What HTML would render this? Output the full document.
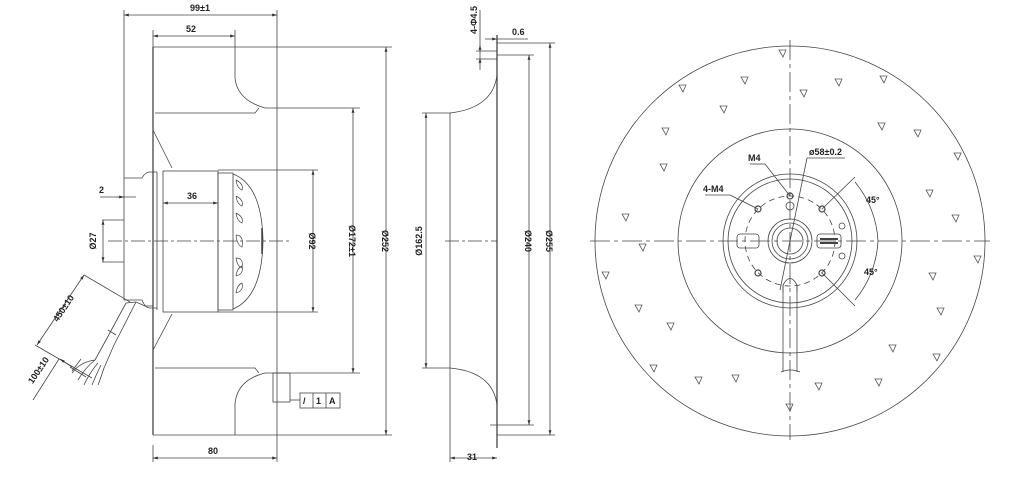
<!DOCTYPE html>
<html><head><meta charset="utf-8"><style>
html,body{margin:0;padding:0;background:#fff;}
svg{display:block}
text{font-family:"Liberation Sans",sans-serif;font-size:9px;fill:#222;font-weight:bold}
</style></head><body>
<svg width="1024" height="480" viewBox="0 0 1024 480" xmlns="http://www.w3.org/2000/svg">
<defs>
<marker id="a" viewBox="0 0 10 10" refX="10" refY="5" markerWidth="6" markerHeight="6" orient="auto-start-reverse"><path d="M0,2 L10,5 L0,8 z" fill="#333"/></marker>
</defs>
<g stroke="#444" stroke-width="0.8" fill="none">
<!-- LEFT VIEW -->
<line x1="124" y1="10" x2="124" y2="300"/>
<line x1="277" y1="10" x2="277" y2="462"/>
<line x1="124" y1="15" x2="277" y2="15" marker-start="url(#a)" marker-end="url(#a)"/>
<line x1="153" y1="30" x2="153" y2="47"/><line x1="235" y1="30" x2="235" y2="47"/>
<line x1="153" y1="36" x2="235" y2="36" marker-start="url(#a)" marker-end="url(#a)"/>
<line x1="153" y1="47" x2="153" y2="435" stroke-width="1.3"/>
<line x1="153" y1="47" x2="235" y2="47"/>
<line x1="235" y1="47" x2="392" y2="47"/>
<path d="M235,47 L235,78 Q237,100 265,108 L277,108"/>
<line x1="277" y1="108" x2="360" y2="108"/>
<path d="M155,113 L255,113 L259,108"/>
<line x1="153" y1="435" x2="235" y2="435"/>
<line x1="235" y1="435" x2="392" y2="435"/>
<path d="M235,435 L235,404 Q237,380 265,373 L277,373"/>
<line x1="277" y1="373" x2="360" y2="373"/>
<path d="M155,368 L255,368 L259,373"/>
<line x1="386" y1="47" x2="386" y2="435" marker-start="url(#a)" marker-end="url(#a)"/>
<line x1="353" y1="108" x2="353" y2="373" marker-start="url(#a)" marker-end="url(#a)"/>
<line x1="218" y1="170" x2="318" y2="170"/><line x1="218" y1="312" x2="318" y2="312"/>
<line x1="313" y1="170" x2="313" y2="312" marker-start="url(#a)" marker-end="url(#a)"/>
<!-- motor -->
<line x1="157" y1="172" x2="157" y2="310"/>
<rect x="163" y="171" width="55" height="141"/>
<rect x="218" y="173" width="15" height="137"/>
<path d="M233,174 Q262,185 263,241 Q262,297 233,309"/>
<line x1="163" y1="203" x2="218" y2="203" marker-start="url(#a)" marker-end="url(#a)"/>
<path d="M124,178 L142,178 Q145,172 150,172 L157,172"/>
<path d="M124,300 L142,300 Q145,308 150,308 L157,308"/>
<path d="M153,130 L172,168"/><path d="M153,350 L172,314"/>
<line x1="262" y1="228" x2="262" y2="254" stroke-width="1.5"/>
<g stroke-width="0.7">
<path d="M236,180 q8,4 6,10 q-5,-2 -6,-10"/>
<path d="M236,196 q8,4 6,10 q-5,-2 -6,-10"/>
<path d="M236,213 q8,4 6,10 q-5,-2 -6,-10"/>
<path d="M236,235 q8,0 6,12 q-5,-2 -6,-12"/>
<path d="M236,258 q8,0 6,10 q-5,-2 -6,-10"/>
<path d="M236,276 q8,-2 6,-10 q-5,2 -6,10"/>
<path d="M236,293 q8,-2 6,-10 q-5,2 -6,10"/>
</g>
<line x1="108" y1="241" x2="290" y2="241" stroke-dasharray="14,3,3,3"/>
<line x1="100" y1="197" x2="136" y2="197"/>
<line x1="117" y1="197" x2="124" y2="197" marker-end="url(#a)"/>
<line x1="102" y1="220" x2="124" y2="220"/><line x1="102" y1="262" x2="124" y2="262"/>
<line x1="103" y1="220" x2="103" y2="262" marker-start="url(#a)" marker-end="url(#a)"/>
<!-- cable -->
<path d="M126,303 L136,302 L145,306 L153,306"/>
<path d="M126,303 L106,340 M136,302 L114,345"/>
<line x1="108" y1="330" x2="116" y2="335"/>
<path d="M106,340 L95,360 M114,345 L104,368"/>
<path d="M95,360 Q80,362 72,373 M95,360 Q85,368 78,380 M98,363 Q90,372 84,385 M101,365 Q96,375 92,385 M104,368 Q100,380 98,385"/>
<line x1="84" y1="275" x2="130" y2="302"/>
<line x1="35" y1="345" x2="92" y2="378"/>
<line x1="37" y1="345" x2="84" y2="275" marker-start="url(#a)" marker-end="url(#a)"/>
<line x1="70" y1="367" x2="86" y2="377"/>
<line x1="59" y1="359" x2="33" y2="400"/>
<line x1="60" y1="359" x2="72" y2="367" marker-start="url(#a)"/>
<line x1="81" y1="359" x2="72" y2="371"/>
<!-- tolerance -->
<rect x="273" y="373" width="17" height="29"/>
<line x1="290" y1="400" x2="300" y2="400"/>
<rect x="300" y="393" width="40" height="15"/>
<line x1="313" y1="393" x2="313" y2="408"/><line x1="326" y1="393" x2="326" y2="408"/>
<line x1="153" y1="445" x2="153" y2="462"/>
<line x1="153" y1="458" x2="277" y2="458" marker-start="url(#a)" marker-end="url(#a)"/>

<!-- MIDDLE VIEW -->
<line x1="497" y1="35" x2="497" y2="448" stroke-width="1.3"/>
<line x1="485" y1="39" x2="497" y2="39" marker-end="url(#a)"/>
<line x1="497" y1="39" x2="528" y2="39"/>
<line x1="480" y1="10" x2="480" y2="70"/>
<line x1="480" y1="45" x2="480" y2="52" marker-start="url(#a)"/>
<line x1="480" y1="58" x2="480" y2="64" marker-start="url(#a)"/>
<line x1="476" y1="51" x2="497" y2="51"/><line x1="476" y1="59" x2="497" y2="59"/>
<path d="M497,75 Q493,108 450,113"/>
<path d="M497,405 Q493,372 450,368"/>
<line x1="450" y1="113" x2="450" y2="462"/>
<line x1="422" y1="113" x2="450" y2="113"/><line x1="422" y1="368" x2="450" y2="368"/>
<line x1="426" y1="113" x2="426" y2="368" marker-start="url(#a)" marker-end="url(#a)"/>
<line x1="497" y1="55" x2="534" y2="55"/><line x1="490" y1="425" x2="534" y2="425"/>
<line x1="529" y1="55" x2="529" y2="425" marker-start="url(#a)" marker-end="url(#a)"/>
<line x1="497" y1="43" x2="555" y2="43"/><line x1="497" y1="435" x2="555" y2="435"/>
<line x1="550" y1="43" x2="550" y2="435" marker-start="url(#a)" marker-end="url(#a)"/>
<line x1="445" y1="241" x2="497" y2="241" stroke-dasharray="14,3,3,3"/>
<line x1="450" y1="458" x2="497" y2="458" marker-start="url(#a)" marker-end="url(#a)"/>

<!-- RIGHT VIEW -->
<circle cx="790" cy="241" r="195"/>
<circle cx="790" cy="241" r="112"/>
<circle cx="790" cy="241" r="67"/>
<circle cx="790" cy="241" r="62"/>
<circle cx="790" cy="241" r="45" stroke-dasharray="6,4"/>
<circle cx="790" cy="241" r="22"/><circle cx="790" cy="241" r="18"/><circle cx="790" cy="241" r="13"/>
<line x1="590" y1="241" x2="990" y2="241" stroke-dasharray="20,4,4,4"/>
<line x1="790" y1="40" x2="790" y2="440" stroke-dasharray="20,4,4,4"/>
<g stroke-width="1.2">
<circle cx="758" cy="209" r="3"/><circle cx="822" cy="209" r="3"/>
<circle cx="758" cy="273" r="3"/><circle cx="822" cy="273" r="3"/>
<circle cx="790" cy="196" r="3"/>
</g>
<circle cx="790" cy="206" r="4"/>
<circle cx="842" cy="226" r="3"/><circle cx="842" cy="256" r="3"/>
<rect x="737" y="234" width="22" height="14" rx="3"/>
<rect x="817" y="234" width="24" height="14" rx="3"/>
<line x1="820" y1="239" x2="838" y2="239" stroke-width="2"/><line x1="820" y1="243" x2="838" y2="243" stroke-width="2"/>
<path d="M783,292 L783,285 Q790,272 797,285 L797,292"/>
<path d="M783,285 L783,372 M797,285 L797,372"/>
<path d="M781,372 Q790,368 800,372"/>
<line x1="758" y1="209" x2="730" y2="195"/><line x1="705" y1="195" x2="730" y2="195"/>
<line x1="790" y1="196" x2="765" y2="164"/><line x1="750" y1="164" x2="765" y2="164"/>
<line x1="807" y1="158" x2="780" y2="290"/><line x1="807" y1="158" x2="845" y2="158"/>
<line x1="822" y1="209" x2="855" y2="177"/>
<line x1="822" y1="273" x2="855" y2="306"/>
<path d="M855,182 A100,100 0 0,1 878,241" />
<path d="M878,241 A100,100 0 0,1 855,300"/>
<g stroke="#555" stroke-width="0.8">
<path d="M779,50 l7,0 l-3,7z M741,77 l7,0 l-3,7z M835,79 l7,0 l-3,7z M880,76 l7,0 l-3,7z M679,85 l7,0 l-3,7z M800,90 l7,0 l-3,7z M720,106 l7,0 l-3,7z M878,123 l7,0 l-3,7z M662,128 l7,0 l-3,7z M914,130 l7,0 l-3,7z M954,153 l7,0 l-3,7z M660,164 l7,0 l-3,7z M926,190 l7,0 l-3,7z M622,214 l7,0 l-3,7z M952,215 l7,0 l-3,7z M639,244 l7,0 l-3,7z M974,256 l7,0 l-3,7z M602,272 l7,0 l-3,7z M929,273 l7,0 l-3,7z M635,305 l7,0 l-3,7z M937,308 l7,0 l-3,7z M667,323 l7,0 l-3,7z M889,345 l7,0 l-3,7z M933,354 l7,0 l-3,7z M650,365 l7,0 l-3,7z M695,377 l7,0 l-3,7z M732,375 l7,0 l-3,7z M875,379 l7,0 l-3,7z M815,383 l7,0 l-3,7z M786,404 l7,0 l-3,7z"/>
</g>
</g>
<!-- TEXT -->
<text x="190" y="11">99±1</text>
<text x="186" y="32">52</text>
<text x="187" y="199">36</text>
<text x="99" y="193">2</text>
<text x="208" y="454">80</text>
<text x="303" y="404">/</text><text x="316" y="404">1</text><text x="329" y="404">A</text>
<text transform="translate(96,241) rotate(-90)" text-anchor="middle">Ø27</text>
<text transform="translate(309,241) rotate(90)" text-anchor="middle">Ø92</text>
<text transform="translate(349,241) rotate(90)" text-anchor="middle">Ø172±1</text>
<text transform="translate(382,241) rotate(90)" text-anchor="middle">Ø252</text>
<text transform="translate(66,310) rotate(-56)" text-anchor="middle">450±10</text>
<text transform="translate(41,372) rotate(-56)" text-anchor="middle">100±10</text>
<text transform="translate(422,241) rotate(-90)" text-anchor="middle">Ø162.5</text>
<text transform="translate(525,241) rotate(90)" text-anchor="middle">Ø240</text>
<text transform="translate(546,241) rotate(90)" text-anchor="middle">Ø255</text>
<text transform="translate(477,20) rotate(-90)" text-anchor="middle">4-Φ4.5</text>
<text x="512" y="35">0.6</text>
<text x="467" y="460">31</text>
<text x="748" y="161">M4</text>
<text x="809" y="155">ø58±0.2</text>
<text x="703" y="192">4-M4</text>
<text x="866" y="203">45°</text>
<text x="864" y="275">45°</text>
</svg>
</body></html>
